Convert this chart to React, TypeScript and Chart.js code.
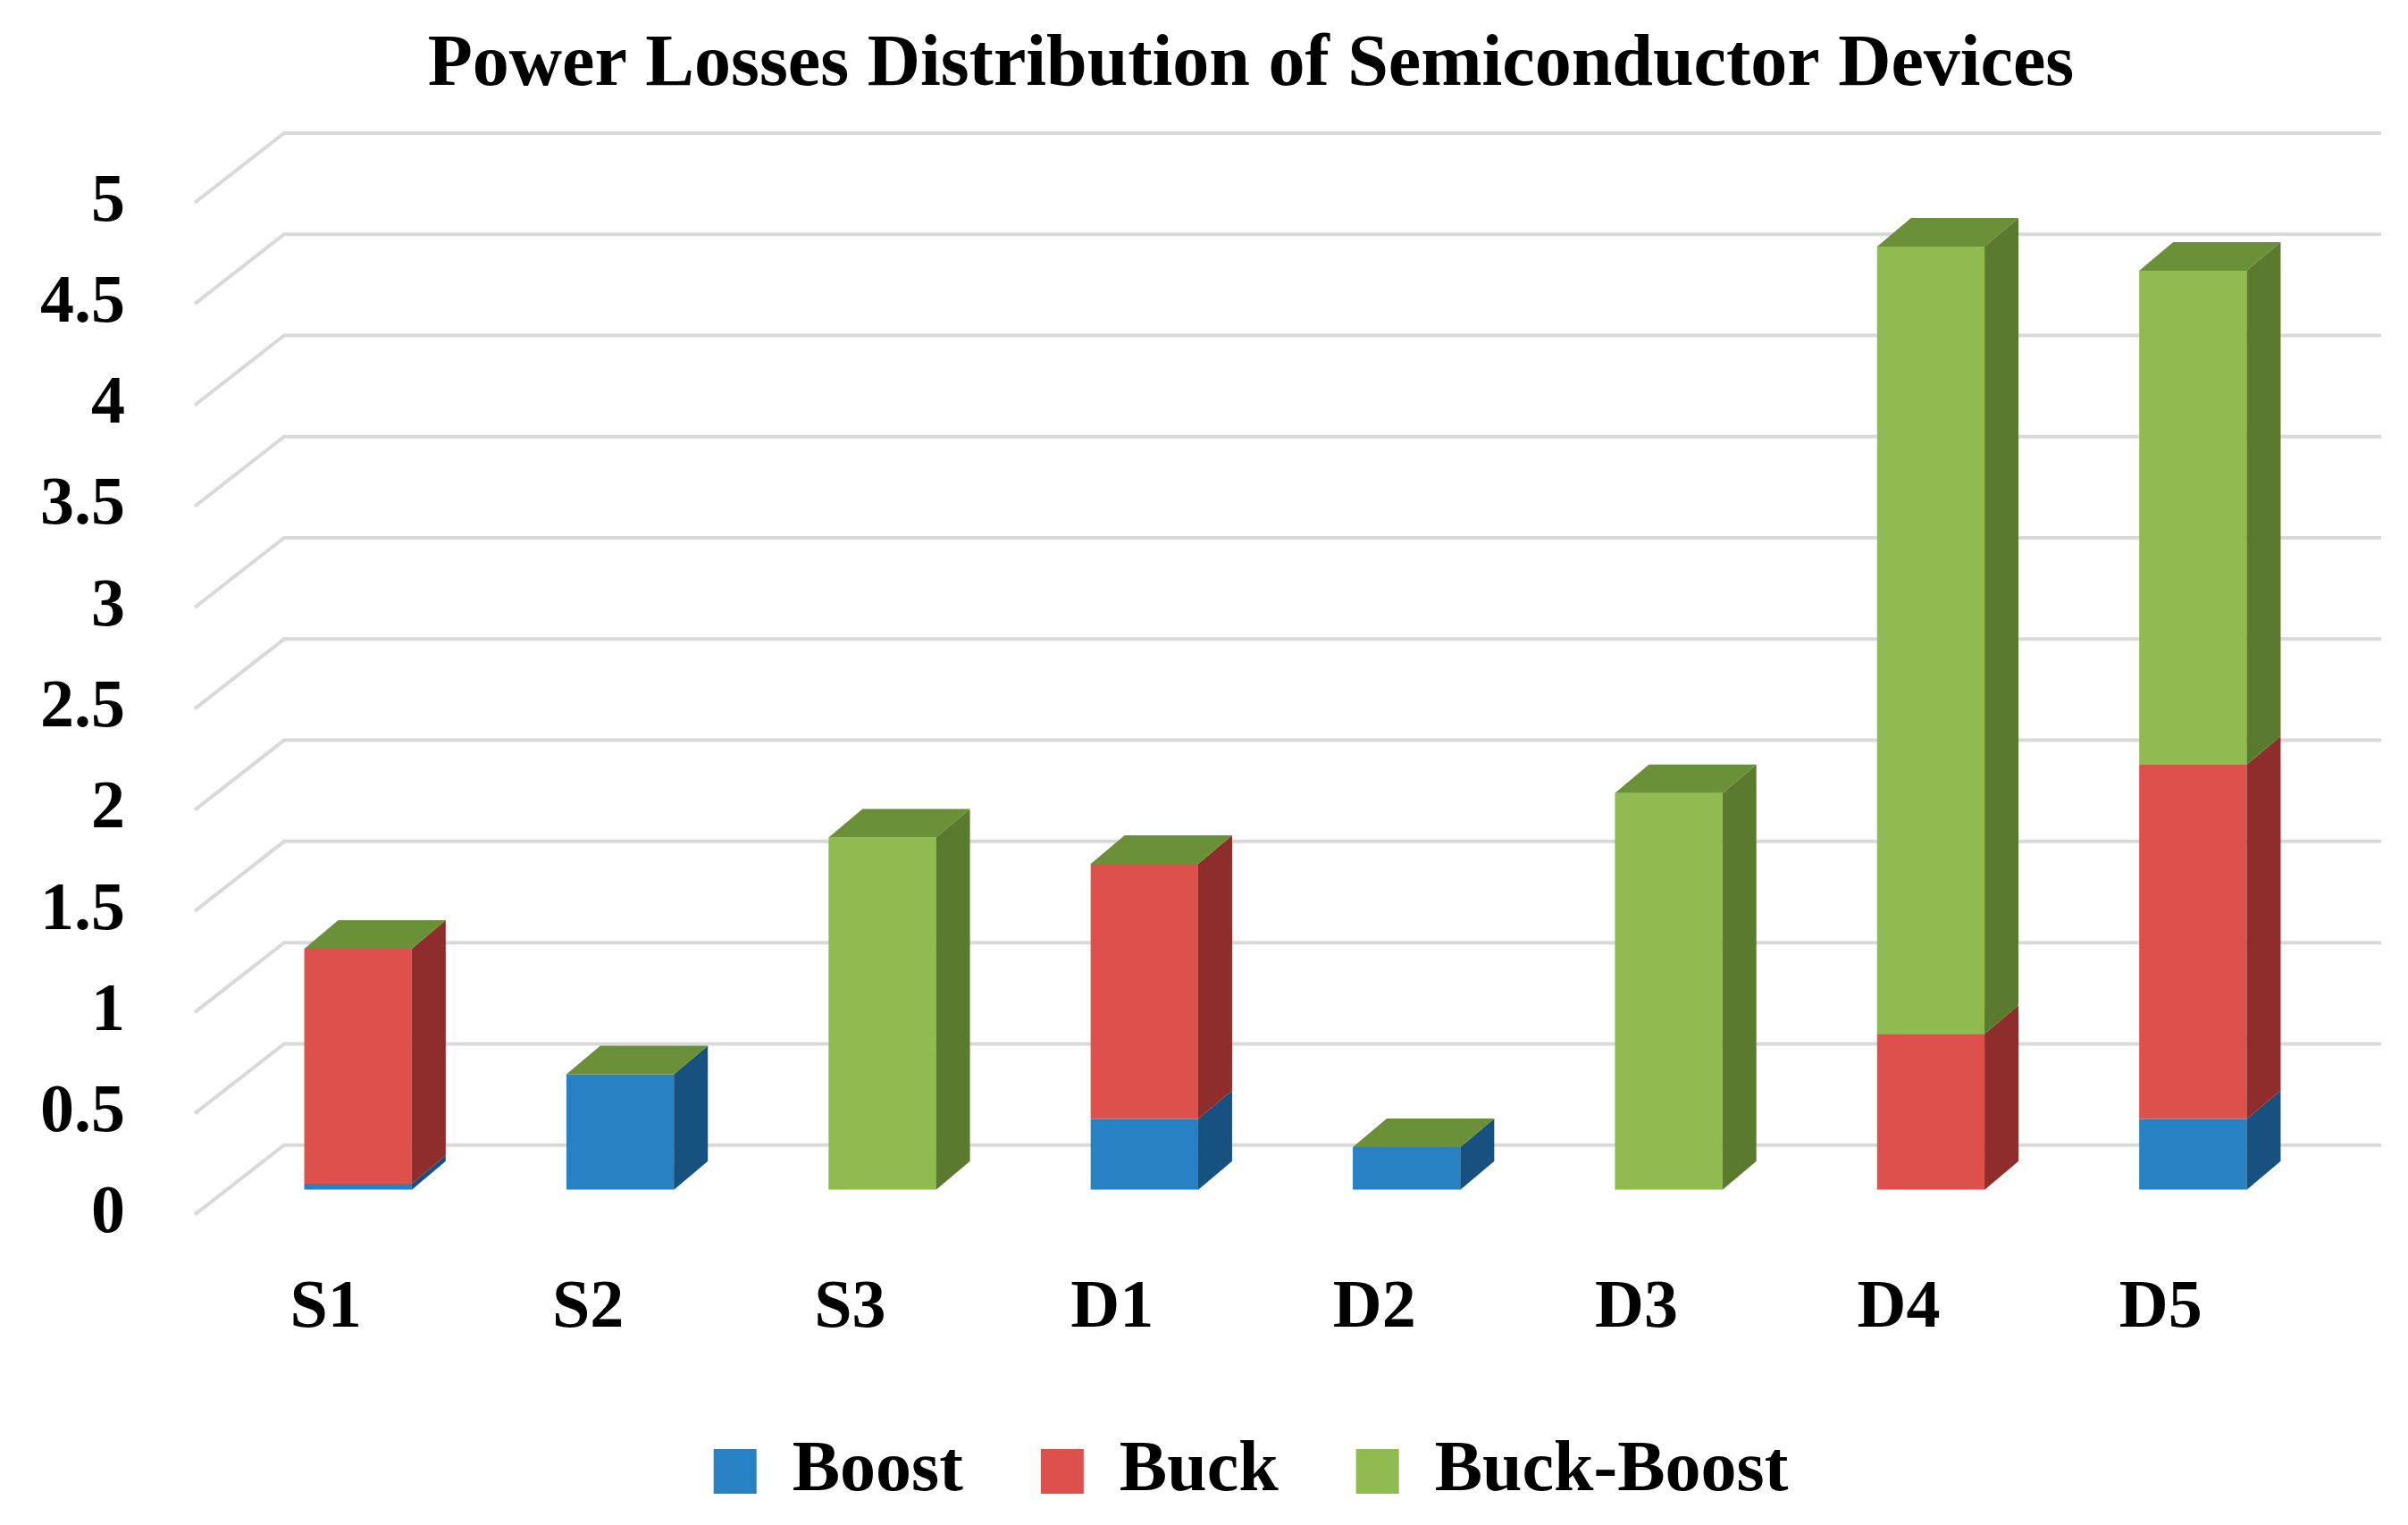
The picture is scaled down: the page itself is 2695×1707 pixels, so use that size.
import React, { useEffect, useRef } from 'react';
import { Chart, registerables } from 'chart.js';

Chart.register(...registerables);

// ---- data ----
const categories = ['S1', 'S2', 'S3', 'D1', 'D2', 'D3', 'D4', 'D5'];
const boostValues = [0.03, 0.57, 0, 0.35, 0.21, 0, 0, 0.35];
const buckValues = [1.16, 0, 0, 1.26, 0, 0, 0.77, 1.75];
const buckBoostValues = [0, 0, 1.74, 0, 0, 1.96, 3.89, 2.44];
const seriesNames = ['Boost', 'Buck', 'Buck-Boost'];
const yMin = 0;
const yMax = 5;
const yStep = 0.5;
const titleText = 'Power Losses Distribution of Semiconductor Devices';

// ---- styles ----
const frontColors = ['#2781C3', '#DE504B', '#8FBB51'];
const sideColors = ['#17517F', '#8E2D2C', '#5A7A2D'];
const topColor = '#6A9038';
const gridColor = '#D9D9D9';
const FONT = '"Liberation Serif", "Times New Roman", serif';

// oblique 3D geometry (pixels relative to the bar front plane)
const FRONT = { dx: -36, dy: 28 };
const BACK = { dx: 64, dy: -50 };
const BAR_DEPTH = { dx: 38, dy: -32 };

const threeD = {
  id: 'threeD',
  beforeDatasetsDraw(chart: any) {
    const { ctx, chartArea, scales } = chart;
    const y = scales.y;
    ctx.save();
    ctx.strokeStyle = gridColor;
    ctx.lineWidth = 4;
    ctx.lineJoin = 'miter';
    y.ticks.forEach((t: any) => {
      const py = y.getPixelForValue(t.value);
      ctx.beginPath();
      ctx.moveTo(chartArea.left + FRONT.dx, py + FRONT.dy);
      ctx.lineTo(chartArea.left + BACK.dx, py + BACK.dy);
      ctx.lineTo(chartArea.right + BACK.dx, py + BACK.dy);
      ctx.stroke();
    });
    ctx.restore();
  },
  afterDatasetsDraw(chart: any) {
    const { ctx } = chart;
    const n = chart.data.labels.length;
    const dsCount = chart.data.datasets.length;
    ctx.save();
    for (let i = 0; i < n; i++) {
      let topEl: any = null;
      for (let d = 0; d < dsCount; d++) {
        const meta = chart.getDatasetMeta(d);
        const el = meta.data[i];
        if (!el) continue;
        const p = el.getProps(['x', 'y', 'base', 'width'], true);
        const right = p.x + p.width / 2;
        const top = Math.min(p.y, p.base);
        const bottom = Math.max(p.y, p.base);
        if (bottom - top > 0.01) {
          ctx.fillStyle = sideColors[d];
          ctx.beginPath();
          ctx.moveTo(right, top);
          ctx.lineTo(right + BAR_DEPTH.dx, top + BAR_DEPTH.dy);
          ctx.lineTo(right + BAR_DEPTH.dx, bottom + BAR_DEPTH.dy);
          ctx.lineTo(right, bottom);
          ctx.closePath();
          ctx.fill();
        }
        topEl = p;
      }
      if (topEl) {
        const left = topEl.x - topEl.width / 2;
        const right = topEl.x + topEl.width / 2;
        const top = Math.min(topEl.y, topEl.base);
        ctx.fillStyle = topColor;
        ctx.beginPath();
        ctx.moveTo(left, top);
        ctx.lineTo(left + BAR_DEPTH.dx, top + BAR_DEPTH.dy);
        ctx.lineTo(right + BAR_DEPTH.dx, top + BAR_DEPTH.dy);
        ctx.lineTo(right, top);
        ctx.closePath();
        ctx.fill();
      }
    }
    ctx.restore();
  },
};

export default function App() {
  const ref = useRef<HTMLCanvasElement>(null);
  useEffect(() => {
    const canvas = ref.current;
    if (!canvas) return;
    const seriesData = [boostValues, buckValues, buckBoostValues];
    const chart = new Chart(canvas, {
      type: 'bar',
      data: {
        labels: categories,
        datasets: seriesNames.map((name, k) => ({
          label: name,
          data: seriesData[k],
          backgroundColor: frontColors[k],
          borderWidth: 0,
          barPercentage: 0.41,
          categoryPercentage: 1,
        })),
      },
      options: {
        responsive: false,
        animation: false,
        devicePixelRatio: 1,
        layout: { padding: { left: 199, right: 94, top: 0, bottom: 10 } },
        plugins: {
          title: {
            display: true,
            text: titleText,
            color: '#000',
            font: { family: FONT, size: 82, weight: 'bold', lineHeight: 1.2 },
            padding: { top: 25, bottom: 75.5 },
          },
          legend: {
            display: true,
            position: 'bottom',
            labels: {
              color: '#000',
              font: { family: FONT, size: 80, weight: 'bold', lineHeight: 1.2 },
              boxWidth: 48,
              boxHeight: 50,
              padding: 87,
            },
          },
          tooltip: { enabled: false },
        },
        scales: {
          x: {
            stacked: true,
            grid: { display: false, drawTicks: false },
            border: { display: false },
            ticks: {
              color: '#000',
              font: { family: FONT, size: 76, weight: 'bold', lineHeight: 1.2 },
              padding: 88,
              labelOffset: FRONT.dx,
              maxRotation: 0,
            },
            afterFit: (s: any) => { s.height = 188.3; },
          },
          y: {
            stacked: true,
            min: yMin,
            max: yMax,
            grid: { display: false, drawTicks: false },
            border: { display: false },
            ticks: {
              stepSize: yStep,
              color: '#000',
              font: { family: FONT, size: 76, weight: 'bold', lineHeight: 1.2 },
              padding: 114,
              labelOffset: FRONT.dy,
              callback: (value: any) => String(Number(value)),
            },
            afterFit: (s: any) => {
              s.width = 55;
              // let the tick labels extend left of the narrow axis box
              s._computeLabelArea = () => undefined;
            },
          },
        },
      },
      plugins: [threeD],
    });
    return () => chart.destroy();
  }, []);
  return (
    <div style={{ position: 'absolute', left: 0, top: 0, width: 2695, height: 1707, background: '#fff' }}>
      <canvas ref={ref} width={2695} height={1707} style={{ width: 2695, height: 1707, display: 'block' }} />
    </div>
  );
}
